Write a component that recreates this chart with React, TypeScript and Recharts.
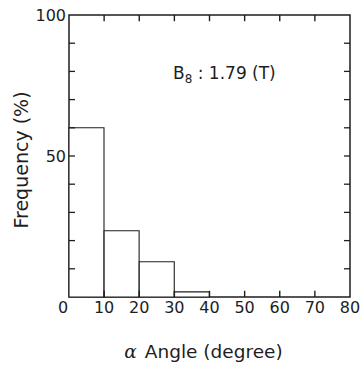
import { ComposedChart, Bar, XAxis, YAxis, ReferenceArea, ReferenceLine } from 'recharts'

// histogram bins: centre angle (degree) and frequency (%)
const binCentres = [5, 15, 25, 35, 45, 55, 65, 75]
const frequency = [60, 23.5, 12.5, 1.8, 0, 0, 0, 0]
const xTicks = [0, 10, 20, 30, 40, 50, 60, 70, 80]
const yTicks = [0, 10, 20, 30, 40, 50, 60, 70, 80, 90, 100]
const yLabels = [50, 100]

const data = binCentres.map((x, i) => ({ x, freq: frequency[i] }))

const INK = '#1e1e1e'
const FONT = '"DejaVu Sans", Verdana, sans-serif'
const TICK = 6
const PLOT_W = 281
// inward x tick length in y units (~6px)
const X_TICK_LEN = 2.2

const XTick = ({ x, y, payload }: any) => {
  const v = payload.value
  return (
    <text x={x} y={y + 16} dx={v === 0 ? -6 : 0} textAnchor="middle" fontSize={16} fontFamily={FONT} fill={INK}>{v}</text>
  )
}

// left labels + inward ticks on left and right edges
const YTick = ({ x, y, payload }: any) => {
  const v = payload.value
  const inner = v !== 0 && v !== 100
  return (
    <g>
      {inner && <line x1={x} y1={y} x2={x + TICK} y2={y} stroke={INK} strokeWidth={1.3} />}
      {inner && <line x1={x + PLOT_W} y1={y} x2={x + PLOT_W - TICK} y2={y} stroke={INK} strokeWidth={1.3} />}
      {yLabels.includes(v) && (
        <text x={x - 3} y={y + 6} textAnchor="end" fontSize={16} fontFamily={FONT} fill={INK}>{v}</text>
      )}
    </g>
  )
}

const YTitle = ({ viewBox }: any) => {
  const cx = viewBox.x + 21
  const cy = viewBox.y + viewBox.height / 2 + 4
  return (
    <text x={cx} y={cy} transform={`rotate(-90 ${cx} ${cy})`} textAnchor="middle" dominantBaseline="central"
      fontSize={19} fontFamily={FONT} fill={INK}>
      Frequency (%)
    </text>
  )
}

const XTitle = ({ viewBox }: any) => {
  const cx = viewBox.x + viewBox.width / 2 - 6
  return (
    <text x={cx} y={viewBox.y + 61} textAnchor="middle" fontSize={18.5} fontFamily={FONT} fill={INK}>
      <tspan fontStyle="italic" fontFamily='"DejaVu Serif", serif'>α</tspan>
      <tspan dx={8}>Angle (degree)</tspan>
    </text>
  )
}

const innerX = xTicks.filter((v) => v !== 0 && v !== 80)

export default function App() {
  return (
    <div style={{ position: 'absolute', left: 0, top: 0, width: 363, height: 371, background: '#fff' }}>
      <ComposedChart width={363} height={371} data={data} barCategoryGap={0} barGap={0}
        margin={{ top: 15, right: 13, bottom: 0, left: 0 }}>
        <XAxis xAxisId="b" dataKey="x" type="number" domain={[0, 80]} ticks={xTicks} height={74}
          axisLine={false} tickLine={false} tickSize={0} tickMargin={0}
          tick={<XTick />} interval={0} label={<XTitle />} />
        <YAxis yAxisId="l" type="number" domain={[0, 100]} ticks={yTicks} width={69}
          axisLine={false} tickLine={false} tickSize={0} tickMargin={0}
          tick={<YTick />} interval={0} label={<YTitle />} />
        <Bar xAxisId="b" yAxisId="l" dataKey="freq" fill="#fff" stroke={INK} strokeWidth={1.1}
          isAnimationActive={false} />
        {innerX.map((v) => (
          <ReferenceLine key={`b${v}`} xAxisId="b" yAxisId="l" stroke={INK} strokeWidth={1.4}
            segment={[{ x: v, y: 0 }, { x: v, y: X_TICK_LEN }]} />
        ))}
        {innerX.map((v) => (
          <ReferenceLine key={`t${v}`} xAxisId="b" yAxisId="l" stroke={INK} strokeWidth={1.4}
            segment={[{ x: v, y: 100 }, { x: v, y: 100 - X_TICK_LEN }]} />
        ))}
        <ReferenceArea xAxisId="b" yAxisId="l" x1={0} x2={80} y1={0} y2={100}
          fill="none" fillOpacity={0} stroke={INK} strokeWidth={1.5} />
      </ComposedChart>
      <div style={{ position: 'absolute', left: 173, top: 63, fontFamily: FONT, fontSize: 17, color: INK, whiteSpace: 'nowrap', lineHeight: '20px' }}>
        B<sub style={{ fontSize: 12, verticalAlign: '-4px', lineHeight: 0 }}>8</sub> : 1.79 (T)
      </div>
    </div>
  )
}
